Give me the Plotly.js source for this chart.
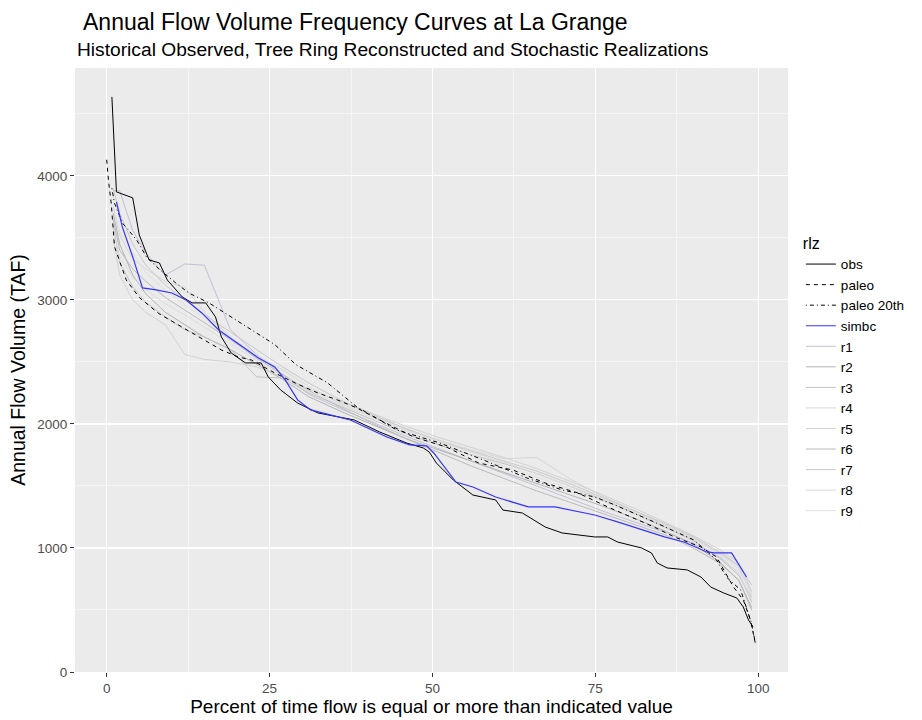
<!DOCTYPE html>
<html>
<head>
<meta charset="utf-8">
<script src="https://cdn.plot.ly/plotly-3.0.1.min.js"></script>
<style>html,body{margin:0;padding:0;background:#fff;}#chart{width:922px;height:720px;}</style>
</head>
<body>
<div id="chart"></div>
<script>
// ---- data ----
const obsX = [0.8, 1.5, 4.0, 5.0, 6.5, 8.1, 9.3, 11.6, 13.1, 15.2, 16.7, 17.6, 19.1, 21.3, 23.7, 24.8, 26.7, 29.3, 32.4, 38.0, 41.9, 46.0, 48.6, 49.5, 50.6, 53.2, 56.2, 59.7, 60.8, 63.8, 67.3, 69.9, 74.9, 76.9, 78.4, 82.1, 83.6, 84.5, 86.0, 89.1, 91.2, 92.7, 94.7, 96.7, 97.7, 98.5, 99.2];
const obsY = [4637, 3871, 3823, 3524, 3323, 3298, 3161, 3024, 2976, 2976, 2863, 2702, 2573, 2492, 2492, 2379, 2274, 2169, 2089, 2032, 1935, 1847, 1806, 1774, 1685, 1548, 1427, 1387, 1306, 1282, 1169, 1121, 1089, 1089, 1048, 1000, 960, 879, 839, 823, 766, 685, 637, 597, 524, 419, 363];

const paleoX = [0.0, 0.3, 0.7, 1.2, 3.0, 5.0, 8.0, 11.6, 14.1, 17.6, 20.2, 22.2, 25.8, 28.9, 32.4, 35.4, 38.4, 41.9, 47.1, 52.1, 57.1, 62.3, 67.3, 72.3, 76.9, 80.5, 84.0, 87.1, 91.2, 93.6, 94.7, 96.2, 97.7, 98.8, 99.6];
const paleoY = [4130, 3950, 3780, 3430, 3161, 3020, 2890, 2782, 2702, 2597, 2540, 2516, 2411, 2331, 2250, 2194, 2129, 2032, 1895, 1815, 1685, 1629, 1524, 1444, 1331, 1250, 1169, 1089, 1008, 927, 823, 685, 581, 419, 218];

const paleo20X = [0.8, 1.2, 2.4, 4.6, 6.1, 8.0, 10.6, 12.6, 15.7, 19.1, 22.8, 25.8, 29.0, 33.9, 38.4, 44.5, 51.1, 57.8, 64.7, 69.9, 74.9, 78.0, 84.0, 90.1, 93.6, 95.1, 97.3, 98.2, 98.9, 99.5];
const paleo20Y = [3900, 3780, 3621, 3484, 3347, 3250, 3137, 3056, 2976, 2863, 2740, 2640, 2480, 2331, 2137, 1952, 1847, 1710, 1560, 1468, 1411, 1347, 1210, 1065, 903, 766, 661, 524, 403, 250];

const simbcX = [1.5, 2.4, 4.0, 5.5, 7.6, 10.0, 12.2, 14.6, 17.2, 19.8, 23.3, 25.8, 27.4, 29.3, 31.3, 34.3, 37.4, 43.0, 46.5, 49.1, 50.2, 53.6, 56.2, 59.7, 64.7, 68.8, 72.9, 74.9, 78.4, 82.1, 85.6, 88.6, 92.1, 93.2, 95.9, 98.2];
const simbcY = [3790, 3589, 3347, 3097, 3081, 3056, 3000, 2895, 2758, 2661, 2532, 2460, 2355, 2194, 2113, 2073, 2032, 1895, 1831, 1823, 1766, 1532, 1492, 1411, 1331, 1331, 1290, 1266, 1210, 1145, 1089, 1048, 968, 960, 960, 766];

const rlzX = [1, 2, 4, 6, 9, 12, 15, 19, 23, 27, 31, 36, 41, 46, 51, 56, 61, 66, 71, 76, 81, 86, 90, 94, 97, 99];
const r1 = [3880, 3880, 3560, 3380, 3200, 3290, 3280, 2760, 2560, 2400, 2240, 2120, 2010, 1900, 1800, 1700, 1600, 1500, 1400, 1300, 1210, 1120, 1040, 930, 800, 560];
const r2 = [3700, 3450, 3200, 3050, 2900, 2800, 2700, 2600, 2480, 2360, 2220, 2100, 1990, 1880, 1790, 1700, 1610, 1520, 1430, 1340, 1240, 1130, 1030, 890, 740, 500];
const r3 = [3600, 3300, 3105, 2980, 2863, 2760, 2702, 2600, 2380, 2370, 2250, 2140, 2030, 1920, 1830, 1750, 1680, 1600, 1500, 1390, 1280, 1160, 1060, 920, 780, 600];
const r4 = [3750, 3520, 3330, 3250, 3150, 3100, 2900, 2700, 2540, 2440, 2300, 2160, 2060, 1960, 1870, 1790, 1720, 1730, 1560, 1420, 1300, 1180, 1080, 960, 850, 640];
const r5 = [3500, 3200, 3000, 2900, 2800, 2560, 2520, 2500, 2460, 2380, 2280, 2180, 2080, 1980, 1890, 1810, 1730, 1640, 1540, 1430, 1320, 1200, 1100, 990, 880, 650];
const r6 = [3650, 3400, 3250, 3150, 3020, 2920, 2820, 2680, 2530, 2400, 2270, 2130, 2000, 1880, 1770, 1660, 1560, 1460, 1370, 1280, 1190, 1100, 1000, 880, 740, 520];
const r7 = [3900, 3700, 3450, 3280, 3120, 3000, 2880, 2740, 2600, 2460, 2330, 2190, 2070, 1960, 1860, 1780, 1700, 1620, 1520, 1410, 1300, 1190, 1090, 970, 860, 700];
const r8 = [3550, 3350, 3180, 3080, 2970, 2880, 2780, 2650, 2510, 2390, 2260, 2150, 2050, 1950, 1860, 1770, 1690, 1600, 1500, 1400, 1290, 1170, 1070, 950, 830, 620];
const r9 = [3750, 3550, 3380, 3220, 3080, 2960, 2850, 2700, 2560, 2430, 2300, 2170, 2050, 1940, 1840, 1750, 1660, 1570, 1480, 1380, 1270, 1150, 1050, 940, 800, 580];

const rlzNames = ["r1", "r2", "r3", "r4", "r5", "r6", "r7", "r8", "r9"];
const rlzValues = [r1, r2, r3, r4, r5, r6, r7, r8, r9];
const rlzColors = ["#c0c0d6", "#b2b2b2", "#c2c2c2", "#d6d6d6", "#d2d2d2", "#bababa", "#c8c8c8", "#dcdcdc", "#e0e0e0"];

const xTicks = [0, 25, 50, 75, 100];
const yTicks = [0, 1000, 2000, 3000, 4000];

// ---- traces ----
const traces = [];
rlzNames.forEach((n, i) => {
  traces.push({x: rlzX, y: rlzValues[i], name: n, type: 'scatter', mode: 'lines',
    line: {color: rlzColors[i], width: 1}, legendrank: 10 + i});
});
traces.push({x: paleoX, y: paleoY, name: 'paleo', type: 'scatter', mode: 'lines',
  line: {color: '#000000', width: 1, dash: '4px,4px'}, legendrank: 2});
traces.push({x: paleo20X, y: paleo20Y, name: 'paleo 20th', type: 'scatter', mode: 'lines',
  line: {color: '#000000', width: 1, dash: '1px,3px,4px,3px'}, legendrank: 3});
traces.push({x: obsX, y: obsY, name: 'obs', type: 'scatter', mode: 'lines',
  line: {color: '#000000', width: 1}, legendrank: 1});
traces.push({x: simbcX, y: simbcY, name: 'simbc', type: 'scatter', mode: 'lines',
  line: {color: '#3434ff', width: 1.2}, legendrank: 4});

const FONT = 'Liberation Sans, Arial, sans-serif';

const layout = {
  width: 922, height: 720, autosize: false,
  paper_bgcolor: '#ffffff', plot_bgcolor: '#ebebeb',
  margin: {l: 75, r: 127, t: 68, b: 48, pad: 0},
  font: {family: FONT, color: '#000'},
  title: {text: 'Annual Flow Volume Frequency Curves at La Grange',
    x: 83 / 922, xref: 'container', xanchor: 'left',
    y: 1 - 22 / 720, yref: 'container', yanchor: 'middle',
    font: {family: FONT, size: 23, color: '#000'}},
  annotations: [{text: 'Historical Observed, Tree Ring Reconstructed and Stochastic Realizations',
    xref: 'paper', yref: 'paper', x: 0, y: (672 - 50) / 604, xanchor: 'left', yanchor: 'middle',
    showarrow: false, font: {family: FONT, size: 19.2, color: '#000'}}],
  xaxis: {range: [-4.86, 104.56], tickvals: xTicks, ticktext: xTicks.map(String),
    showgrid: true, gridcolor: '#ffffff', gridwidth: 1.1, zeroline: false, showline: false,
    ticks: 'outside', ticklen: 4, tickcolor: '#333333', tickwidth: 1,
    tickfont: {family: FONT, size: 13.5, color: '#4d4d4d'},
    minor: {dtick: 12.5, tick0: 0, showgrid: true, gridcolor: '#ffffff', gridwidth: 0.5, ticks: ''},
    title: {text: 'Percent of time flow is equal or more than indicated value',
      font: {family: FONT, size: 19, color: '#000'}, standoff: 4}},
  yaxis: {range: [0, 4870], tickvals: yTicks, ticktext: yTicks.map(String),
    showgrid: true, gridcolor: '#ffffff', gridwidth: 1.1, zeroline: false, showline: false,
    ticks: 'outside', ticklen: 4, tickcolor: '#333333', tickwidth: 1,
    tickfont: {family: FONT, size: 13.5, color: '#4d4d4d'},
    minor: {dtick: 500, tick0: 0, showgrid: true, gridcolor: '#ffffff', gridwidth: 0.5, ticks: ''},
    title: {text: 'Annual Flow Volume (TAF)', font: {family: FONT, size: 19.5, color: '#000'}, standoff: 6}},
  legend: {x: (808 - 75) / 720, xanchor: 'left', y: (672 - 228) / 604, yanchor: 'top',
    bgcolor: 'rgba(0,0,0,0)', itemwidth: 30, tracegroupgap: 0,
    title: {text: 'rlz', font: {family: FONT, size: 16, color: '#000'}},
    font: {family: FONT, size: 13.5, color: '#000'}},
  showlegend: true
};

Plotly.newPlot('chart', traces, layout, {displayModeBar: false, staticPlot: true});
</script>
</body>
</html>
